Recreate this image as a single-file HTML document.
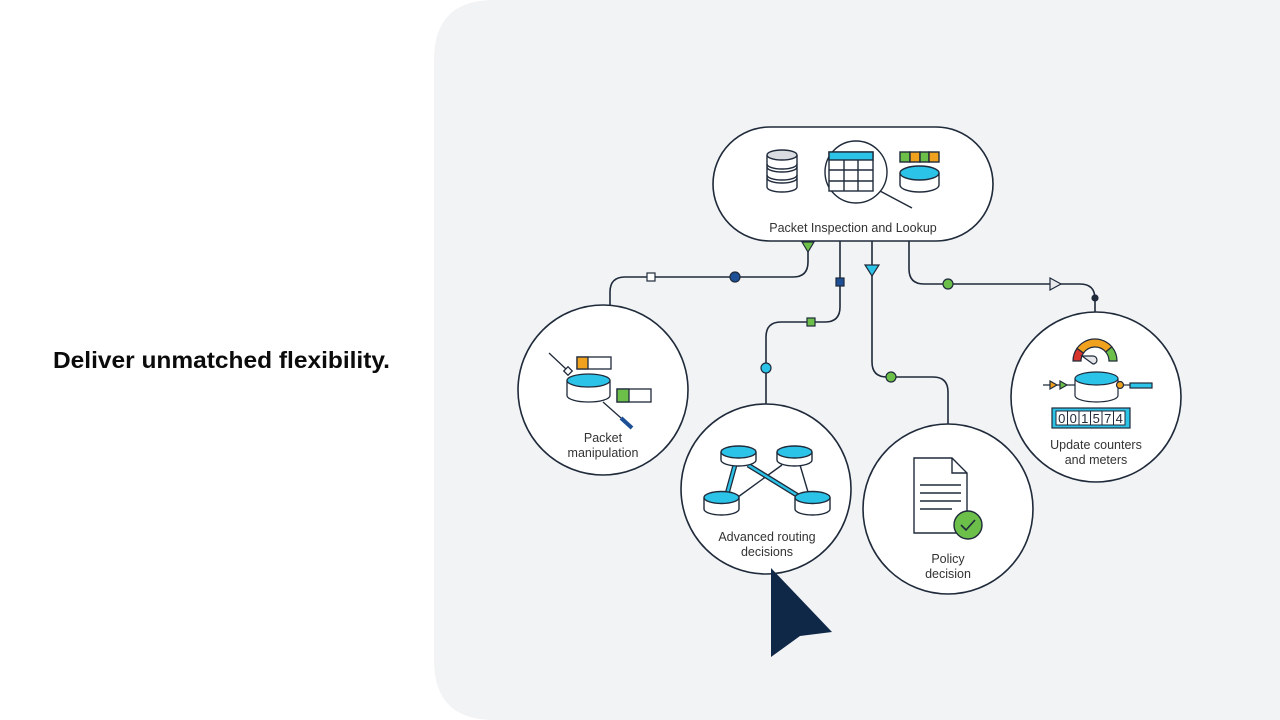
<!DOCTYPE html>
<html><head><meta charset="utf-8"><style>
html,body{margin:0;padding:0;background:#fff;width:1280px;height:720px;overflow:hidden}
svg{display:block}
text{font-family:"Liberation Sans",Arial,sans-serif}
</style></head><body>
<svg width="1280" height="720" viewBox="0 0 1280 720" xmlns="http://www.w3.org/2000/svg">
<rect width="1280" height="720" fill="#fff"/>
<path d="M494,0 H1280 V720 H494 Q434,720 434,660 V60 Q434,0 494,0 Z" fill="#f2f3f5"/>
<text x="53" y="368" font-size="23" font-weight="bold" fill="#0b0b0b" textLength="337" lengthAdjust="spacingAndGlyphs">Deliver unmatched flexibility.</text>

<g fill="none" stroke="#1f2a3a" stroke-width="1.6">
<path d="M808,241 V262 Q808,277 793,277 H625 Q610,277 610,292 V305"/>
<path d="M840,241 V307 Q840,322 825,322 H781 Q766,322 766,337 V404"/>
<path d="M872,241 V362 Q872,377 887,377 H933 Q948,377 948,392 V424"/>
<path d="M909,241 V269 Q909,284 924,284 H1080 Q1095,284 1095,299 V312"/>
</g>

<!-- markers -->
<g stroke="#1f2a3a" stroke-width="1.2">
<polygon points="802,242 814,242 808,252" fill="#6cc04a"/>
<rect x="647" y="273" width="8" height="8" fill="#fff"/>
<circle cx="735" cy="277" r="5" fill="#1c4f96"/>
<rect x="836" y="278" width="8" height="8" fill="#1c4f96"/>
<rect x="807" y="318" width="8" height="8" fill="#6cc04a"/>
<circle cx="766" cy="368" r="5" fill="#2cc3e8"/>
<polygon points="865,265 879,265 872,276" fill="#2cc3e8"/>
<circle cx="891" cy="377" r="5" fill="#6cc04a"/>
<circle cx="948" cy="284" r="5" fill="#6cc04a"/>
<polygon points="1050,278 1050,290 1061,284" fill="#e8eaee"/>
<circle cx="1095" cy="298" r="3" fill="#1f2a3a"/>
</g>

<!-- top pill -->
<rect x="713" y="127" width="280" height="114" rx="57" fill="#fff" stroke="#1f2a3a" stroke-width="1.6"/>
<g stroke="#1f2a3a" stroke-width="1.4">
<!-- db stack -->
<path d="M767,155 V187 A15,5 0 0 0 797,187 V155" fill="#fff"/>
<ellipse cx="782" cy="155" rx="15" ry="5" fill="#d9dce1"/>
<path d="M767,164 A15,5 0 0 0 797,164 M767,167 A15,5 0 0 0 797,167 M767,175 A15,5 0 0 0 797,175 M767,178 A15,5 0 0 0 797,178" fill="none"/>
<!-- magnifier -->
<line x1="880" y1="191" x2="912" y2="208"/>
<circle cx="856" cy="172" r="31" fill="#fff"/>
<rect x="829" y="152" width="44" height="39" fill="#fff"/>
<rect x="829" y="152" width="44" height="8" fill="#2cc3e8"/>
<path d="M844,160 V191 M858,160 V191 M829,170 H873 M829,181 H873" fill="none"/>
<!-- bar + cylinder -->
<rect x="900" y="152" width="10" height="10" fill="#6cc04a"/>
<rect x="910" y="152" width="10" height="10" fill="#f0a21f"/>
<rect x="920" y="152" width="9" height="10" fill="#6cc04a"/>
<rect x="929" y="152" width="10" height="10" fill="#f0a21f"/>
<path d="M900,173 V185 A19.5,7 0 0 0 939,185 V173" fill="#fff"/>
<ellipse cx="919.5" cy="173" rx="19.5" ry="7" fill="#2cc3e8"/>
</g>
<text x="853" y="232" font-size="12.5" fill="#333" text-anchor="middle">Packet Inspection and Lookup</text>

<!-- circles -->
<g fill="#fff" stroke="#1f2a3a" stroke-width="1.6">
<circle cx="603" cy="390" r="85"/>
<circle cx="766" cy="489" r="85"/>
<circle cx="948" cy="509" r="85"/>
<circle cx="1096" cy="397" r="85"/>
</g>

<!-- packet manipulation -->
<g stroke="#1f2a3a" stroke-width="1.3">
<line x1="549" y1="353" x2="566" y2="369"/>
<rect x="565" y="368" width="6" height="6" fill="#fff" transform="rotate(45 568 371)"/>
<rect x="577" y="357" width="34" height="12" fill="#fff"/>
<rect x="577" y="357" width="11" height="12" fill="#f0a21f"/>
<line x1="603" y1="402" x2="621" y2="418"/>
<line x1="621" y1="418" x2="632" y2="428" stroke="#1c4f96" stroke-width="4"/>
<path d="M567,380.5 V395.5 A21.5,6.5 0 0 0 610,395.5 V380.5" fill="#fff"/>
<ellipse cx="588.5" cy="380.5" rx="21.5" ry="6.5" fill="#2cc3e8"/>
<rect x="617" y="389" width="34" height="13" fill="#fff"/>
<rect x="617" y="389" width="12" height="13" fill="#6cc04a"/>
</g>
<text x="603" y="442" font-size="12.5" fill="#333" text-anchor="middle">Packet</text>
<text x="603" y="457" font-size="12.5" fill="#333" text-anchor="middle">manipulation</text>

<!-- advanced routing -->
<g stroke="#1f2a3a">
<line x1="782" y1="465" x2="738" y2="497" stroke-width="1.4"/>
<line x1="800" y1="465" x2="808" y2="492" stroke-width="1.4"/>
<line x1="735" y1="465" x2="727" y2="494" stroke-width="5"/>
<line x1="735" y1="465" x2="727" y2="494" stroke="#2cc3e8" stroke-width="2.4"/>
<line x1="748" y1="465" x2="800" y2="497" stroke-width="5"/>
<line x1="748" y1="465" x2="800" y2="497" stroke="#2cc3e8" stroke-width="2.4"/>
<g stroke-width="1.4">
<path d="M721,452 V460 A17.5,6 0 0 0 756,460 V452" fill="#fff"/>
<ellipse cx="738.5" cy="452" rx="17.5" ry="6" fill="#2cc3e8"/>
<path d="M777,452 V460 A17.5,6 0 0 0 812,460 V452" fill="#fff"/>
<ellipse cx="794.5" cy="452" rx="17.5" ry="6" fill="#2cc3e8"/>
<path d="M704,497.5 V509 A17.5,6 0 0 0 739,509 V497.5" fill="#fff"/>
<ellipse cx="721.5" cy="497.5" rx="17.5" ry="6" fill="#2cc3e8"/>
<path d="M795,497.5 V509 A17.5,6 0 0 0 830,509 V497.5" fill="#fff"/>
<ellipse cx="812.5" cy="497.5" rx="17.5" ry="6" fill="#2cc3e8"/>
</g>
</g>
<text x="767" y="541" font-size="12.5" fill="#333" text-anchor="middle">Advanced routing</text>
<text x="767" y="556" font-size="12.5" fill="#333" text-anchor="middle">decisions</text>

<!-- cursor -->
<path d="M771,568 L832,632 L800,636 L771,657 Z" fill="#0f2848"/>

<!-- policy -->
<g stroke="#1f2a3a" stroke-width="1.4" fill="none">
<path d="M914,458 H952 L967,473 V533 H914 Z" fill="#fff"/>
<path d="M952,458 V473 H967"/>
<path d="M920,485 H961 M920,493 H961 M920,501 H961 M920,509 H952"/>
<circle cx="968" cy="525" r="14" fill="#6cc04a"/>
<path d="M961,525 L966,530 L975,520" stroke-width="1.6"/>
</g>
<text x="948" y="563" font-size="12.5" fill="#333" text-anchor="middle">Policy</text>
<text x="948" y="578" font-size="12.5" fill="#333" text-anchor="middle">decision</text>

<!-- update counters -->
<g stroke="#1f2a3a" stroke-width="1.2">
<path d="M1073,361 A22,22 0 0 1 1076.98,348.38 L1083.53,352.97 A14,14 0 0 0 1081,361 Z" fill="#d6342c"/>
<path d="M1076.98,348.38 A22,22 0 0 1 1111.85,346.86 L1105.72,352 A14,14 0 0 0 1083.53,352.97 Z" fill="#f0a21f"/>
<path d="M1111.85,346.86 A22,22 0 0 1 1117,361 L1109,361 A14,14 0 0 0 1105.72,352 Z" fill="#6cc04a"/>
<path d="M1082,356 L1093,356 A4,4 0 0 1 1093,364 Z" fill="#e4e6ea"/>
<line x1="1043" y1="385" x2="1075" y2="385"/>
<line x1="1118" y1="385" x2="1130" y2="385"/>
<path d="M1050,381 L1057,385 L1050,389 Z" fill="#f0a21f"/>
<path d="M1060,381 L1067,385 L1060,389 Z" fill="#6cc04a"/>
<path d="M1075,378.5 V395.5 A21.5,6.5 0 0 0 1118,395.5 V378.5" fill="#fff"/>
<ellipse cx="1096.5" cy="378.5" rx="21.5" ry="6.5" fill="#2cc3e8"/>
<circle cx="1120" cy="385" r="3.5" fill="#f0a21f"/>
<rect x="1130" y="383" width="22" height="5" fill="#2cc3e8"/>
<rect x="1052" y="408" width="78" height="20" fill="#2cc3e8"/>
<g fill="#fff" stroke-width="1">
<rect x="1056" y="411" width="11.5" height="14"/>
<rect x="1067.5" y="411" width="11.5" height="14"/>
<rect x="1079" y="411" width="11.5" height="14"/>
<rect x="1090.5" y="411" width="11.5" height="14"/>
<rect x="1102" y="411" width="11.5" height="14"/>
<rect x="1113.5" y="411" width="11.5" height="14"/>
</g>
</g>
<g font-size="13" fill="#1f2a3a" text-anchor="middle">
<text x="1061.75" y="423">0</text>
<text x="1073.25" y="423">0</text>
<text x="1084.75" y="423">1</text>
<text x="1096.25" y="423">5</text>
<text x="1107.75" y="423">7</text>
<text x="1119.25" y="423">4</text>
</g>
<text x="1096" y="449" font-size="12.5" fill="#333" text-anchor="middle">Update counters</text>
<text x="1096" y="464" font-size="12.5" fill="#333" text-anchor="middle">and meters</text>
</svg>
</body></html>
